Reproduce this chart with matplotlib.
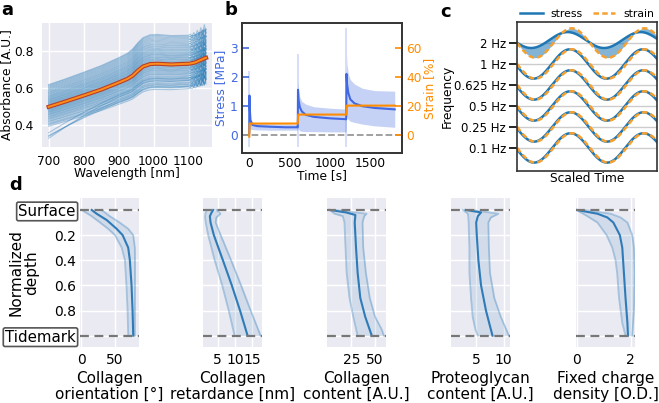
import numpy as np
import matplotlib
matplotlib.use("Agg")
import matplotlib.pyplot as plt
import matplotlib.patheffects as pe
from matplotlib.lines import Line2D

plt.rcParams['font.family'] = ['DejaVu Sans']

# ---------------- data: panel a (NIR spectra) ----------------
wl = [700, 750, 800, 850, 900, 925, 940, 955, 970, 990, 1010, 1050, 1100,
      1105, 1110, 1115, 1120, 1125, 1130, 1135, 1140, 1145, 1150]
spec_mean = [0.497, 0.527, 0.558, 0.590, 0.628, 0.648, 0.665, 0.692, 0.715, 0.728, 0.730, 0.726, 0.730,
             0.731, 0.733, 0.735, 0.738, 0.742, 0.746, 0.750, 0.754, 0.759, 0.762]
spec_spread = [1.0, 1.02, 1.05, 1.08, 1.12, 1.15, 1.2, 1.26, 1.3, 1.32, 1.32, 1.3, 1.28,
               1.28, 1.28, 1.28, 1.28, 1.29, 1.29, 1.3, 1.3, 1.3, 1.3]
spec_taper = [1.0, 0.65, 0.35, 0.12, 0, 0, 0, 0, 0, 0, 0, 0, 0, 0, 0, 0, 0, 0, 0, 0, 0, 0, 0]
tail_jitter = [0, 0, 0, 0, 0, 0, 0, 0, 0, 0, 0, 0, 0.0,
               0.006, -0.008, 0.010, -0.012, 0.014, -0.016, 0.019, -0.022, 0.026, -0.018]
spec_offsets = [-0.105, -0.098, -0.093, -0.088, -0.081, -0.077, -0.071, -0.066, -0.062, -0.057,
                -0.053, -0.049, -0.044, -0.041, -0.037, -0.033, -0.029, -0.026, -0.022, -0.019,
                -0.015, -0.012, -0.008, -0.005, -0.002, 0.001, 0.004, 0.007, 0.011, 0.014,
                0.018, 0.021, 0.025, 0.028, 0.032, 0.036, 0.039, 0.043, 0.047, 0.051,
                0.055, 0.059, 0.063, 0.068, 0.072, 0.077, 0.081, 0.086, 0.091, 0.096,
                0.101, 0.106, 0.111, 0.116, 0.120, -0.070, -0.085, -0.095, -0.060]
spec_drop = [0] * 55 + [-0.10, -0.075, -0.06, -0.08]
spec_jit = [0.3, -0.5, 0.8, -1.0, 0.6, -0.2, 1.0, -0.7, 0.4, -0.9, 0.7, -0.3]

# ---------------- data: panel b (stress relaxation) ----------------
stress_t = [0, 2, 6, 15, 40, 100, 250, 450, 599,
            600, 603, 610, 625, 650, 700, 800, 1000, 1199,
            1200, 1203, 1210, 1225, 1250, 1300, 1400, 1550, 1800]
stress_mean = [0.05, 1.35, 0.9, 0.5, 0.33, 0.29, 0.27, 0.25, 0.25,
               0.25, 1.55, 1.2, 0.95, 0.80, 0.68, 0.61, 0.56, 0.53,
               0.53, 2.10, 1.75, 1.45, 1.22, 1.08, 0.98, 0.92, 0.87]
stress_low = [0.0, 0.22, 0.2, 0.18, 0.17, 0.16, 0.15, 0.15, 0.15,
              0.15, 0.25, 0.18, 0.13, 0.11, 0.10, 0.10, 0.09, 0.09,
              0.09, 0.70, 0.60, 0.52, 0.46, 0.42, 0.36, 0.30, 0.25]
stress_up = [0.1, 1.0, 0.6, 0.48, 0.42, 0.39, 0.37, 0.36, 0.35,
             0.35, 1.90, 1.55, 1.30, 1.15, 1.05, 0.96, 0.91, 0.88,
             0.88, 2.80, 2.40, 2.10, 1.90, 1.75, 1.60, 1.52, 1.50]
spike_t = [0, 600, 1200]
spike_low = [-0.43, -0.43, -0.43]
spike_high = [2.2, 2.8, 3.7]
strain_t = [0, 4, 600, 605, 1200, 1205, 1800]
strain_val = [-1.5, 7.6, 7.6, 13.8, 13.8, 20.0, 20.0]

# ---------------- data: panel c (sinusoidal loading) ----------------
freq_labels = ['0.1 Hz', '0.25 Hz', '0.5 Hz', '0.625 Hz', '1 Hz', '2 Hz']
strain_amp = [0.70, 0.70, 0.70, 0.70, 0.70, 0.70]
stress_amp = [0.70, 0.70, 0.70, 0.70, 0.70, 0.38]
stress_shift = [0.0, 0.0, 0.0, 0.0, 0.0, 0.14]
stress_lead = [0.10, 0.10, 0.12, 0.12, 0.15, 0.35]
wave_phase = [0.0, 0.0, 0.0, 0.0, 0.0, 0.0]
scaled_time_end = 1.92

# ---------------- data: panel d (depth profiles) ----------------
d_orient = [0, 0.03, 0.08, 0.15, 0.2, 0.3, 0.4, 0.6, 0.8, 1.0]
orient_mean = [15.7, 23, 37.8, 52.5, 61.3, 69.6, 72, 74.5, 76, 77]
d_orient_b = [0, 0.05, 0.1, 0.15, 0.2, 0.3, 0.4, 0.6, 0.8, 1.0]
orient_low = [1, 15.7, 28, 40, 50, 60, 64.7, 67, 68.6, 69.6]
orient_up = [30.4, 42.6, 57, 69.6, 77, 79.4, 79.6, 79.6, 79.5, 79.4]

d_ret = [0, 0.02, 0.05, 0.1, 0.2, 0.4, 0.6, 0.8, 1.0]
ret_mean = [3.67, 3.2, 2.7, 2.9, 3.86, 6.5, 9.1, 11.5, 13.7]
d_ret_b = [0, 0.03, 0.06, 0.1, 0.2, 0.4, 0.6, 0.8, 1.0]
ret_low = [1.8, 1.4, 1.3, 1.5, 2.2, 4.1, 6.3, 8.2, 9.9]
ret_up = [4.6, 5.8, 4.6, 4.4, 5.86, 8.9, 11.8, 14.6, 17.5]

d_col = [0, 0.02, 0.04, 0.06, 0.1, 0.3, 0.5, 0.7, 0.85, 1.0]
col_mean = [2.1, 19.5, 29.2, 29.0, 28.5, 29.9, 31.6, 34.4, 39.6, 46.5]
d_col_b = [0, 0.03, 0.05, 0.1, 0.3, 0.5, 0.7, 0.85, 0.95, 1.0]
col_low = [2.0, 7.3, 16.0, 17.7, 18.8, 20.0, 23.0, 27.0, 30.0, 31.6]
col_up = [7.3, 41.0, 38.5, 36.8, 37.5, 40.3, 44.4, 50.0, 57.0, 59.3]

d_pg = [0, 0.02, 0.05, 0.1, 0.2, 0.4, 0.6, 0.8, 0.9, 1.0]
pg_mean = [3.0, 5.85, 5.25, 4.95, 5.06, 5.36, 5.85, 6.76, 7.36, 7.97]
d_pg_b = [0, 0.03, 0.06, 0.1, 0.3, 0.5, 0.7, 0.85, 0.95, 1.0]
pg_low = [2.5, 3.4, 3.5, 3.55, 3.7, 3.7, 4.0, 4.3, 4.8, 5.25]
pg_up = [4.0, 9.06, 7.67, 7.2, 7.3, 7.5, 8.3, 9.5, 10.5, 11.0]

d_fcd = [0, 0.03, 0.06, 0.1, 0.2, 0.3, 0.5, 0.7, 0.9, 1.0]
fcd_mean = [0.0, 0.77, 1.14, 1.36, 1.6, 1.69, 1.75, 1.81, 1.88, 1.9]
d_fcd_b = [0, 0.05, 0.1, 0.2, 0.3, 0.4, 0.5, 0.7, 0.9, 1.0]
fcd_low = [0.0, 0.4, 0.77, 1.11, 1.32, 1.44, 1.5, 1.57, 1.69, 1.81]
fcd_up_d = [0, 0.03, 0.06, 0.1, 0.2, 0.3, 0.5, 0.8, 1.0]
fcd_up = [0.27, 1.26, 1.63, 1.88, 2.06, 2.12, 2.15, 2.12, 2.06]

d_titles = ["Collagen\norientation [°]", "Collagen\nretardance [nm]", "Collagen\ncontent [A.U.]",
            "Proteoglycan\ncontent [A.U.]", "Fixed charge\ndensity [O.D.]"]
d_ticks = [[0, 50], [5, 10, 15], [25, 50], [5, 10], [0, 2]]
depth_ticks = [0, 0.2, 0.4, 0.6, 0.8, 1.0]
depth_labels = ['Surface', '0.2', '0.4', '0.6', '0.8', 'Tidemark']

# ---------------- figure ----------------
W, H = 659, 403
fig = plt.figure(figsize=(W / 100, H / 100), dpi=100)


def px_axes(l, t, r, b):
    return fig.add_axes([l / W, 1 - b / H, (r - l) / W, (b - t) / H])


def darkgrid(ax):
    ax.set_facecolor('#EAEAF2')
    for s in ax.spines.values():
        s.set_visible(False)
    ax.grid(True, color='white', lw=1.0)
    ax.set_axisbelow(True)
    ax.tick_params(length=0)


FS = 8.8
# ---------- panel a ----------
axa = px_axes(42, 23, 212, 147)
darkgrid(axa)
wl_a = np.array(wl)
mean_a = np.array(spec_mean)
spread_a = np.array(spec_spread)
taper_a = np.array(spec_taper)
jit_a = np.array(tail_jitter)
for i, off in enumerate(spec_offsets):
    y = mean_a + off * spread_a + spec_drop[i] * taper_a + spec_jit[i % len(spec_jit)] * jit_a
    axa.plot(wl_a, y, color='#1f77b4', alpha=0.35, lw=0.8)
axa.plot(wl_a, mean_a, color='#ff8c1a', lw=1.4,
         path_effects=[pe.Stroke(linewidth=3.0, foreground='#b5402a'), pe.Normal()])
axa.set_xlim(681, 1167)
axa.set_ylim(0.28, 0.95)
axa.set_xticks([700, 800, 900, 1000, 1100])
axa.set_yticks([0.4, 0.6, 0.8])
axa.tick_params(labelsize=FS, pad=6)
axa.set_xlabel('Wavelength [nm]', fontsize=FS, labelpad=-1)
axa.set_ylabel('Absorbance [A.U.]', fontsize=FS)
axa.yaxis.set_label_coords((13.5 - 42) / 170, 0.5)

# ---------- panel b ----------
axb = px_axes(242, 23, 402, 153)
blue_b = '#4169E1'
orange_b = '#FF8C00'
axb.fill_between(stress_t, stress_low, stress_up, color=blue_b, alpha=0.3, lw=0)
axb.vlines(spike_t, spike_low, spike_high, color=blue_b, alpha=0.25, lw=1.2)
axb.plot(stress_t, stress_mean, color=blue_b, lw=1.5)
axb.axhline(0, color='#999999', ls='--', lw=1.3)
axb.set_xlim(-90, 1890)
axb.set_ylim(-0.64, 3.86)
axb.set_yticks([0, 1, 2, 3])
axb.set_xticks([0, 500, 1000, 1500])
for s in axb.spines.values():
    s.set_color('#333333')
    s.set_linewidth(1.2)
axb.tick_params(axis='y', colors=blue_b, labelsize=FS, direction='in', length=5, width=1.2, pad=3)
axb.tick_params(axis='x', labelsize=FS, direction='in', length=0, pad=3)
axb.set_ylabel('Stress [MPa]', color=blue_b, fontsize=FS, labelpad=2)
axb.set_xlabel('Time [s]', fontsize=FS, labelpad=-1)
axb2 = axb.twinx()
axb2.plot(strain_t, strain_val, color=orange_b, lw=1.5)
axb2.set_ylim(-12.8, 77.2)
axb2.set_yticks([0, 20, 40, 60])
axb2.tick_params(axis='y', colors=orange_b, labelsize=FS, direction='in', length=5, width=1.2, pad=3)
axb2.set_ylabel('Strain [%]', color=orange_b, fontsize=FS, labelpad=1)
for s in axb2.spines.values():
    s.set_color('#333333')
    s.set_linewidth(1.2)

# ---------- panel c ----------
axc = px_axes(517, 22, 657, 171)
c_blue = '#1f77b4'
c_orange = '#f5a030'
xs = np.linspace(0, scaled_time_end, 400)
for i, lab in enumerate(freq_labels):
    strain_y = i - strain_amp[i] * np.sin(2 * np.pi * xs + wave_phase[i])
    stress_y = i + stress_shift[i] - stress_amp[i] * np.sin(2 * np.pi * xs + wave_phase[i] + stress_lead[i])
    if lab == '2 Hz':
        axc.fill_between(xs, stress_y, strain_y, color=c_blue, alpha=0.55, lw=0)
    axc.plot(xs, stress_y, color=c_blue, lw=1.8)
    axc.plot(xs, strain_y, color=c_orange, lw=1.8, ls=(0, (2.2, 1.3)))
axc.set_xlim(0, scaled_time_end)
axc.set_ylim(-1.1, 6.0)
axc.set_yticks(range(len(freq_labels)))
axc.set_yticklabels(freq_labels)
axc.set_xticks([])
axc.grid(True, axis='y', color='#cccccc', lw=1.0)
axc.set_axisbelow(True)
for s in axc.spines.values():
    s.set_color('#333333')
    s.set_linewidth(1.2)
axc.tick_params(axis='y', labelsize=FS - 0.3, length=6, width=1.2, pad=2)
axc.set_ylabel('Frequency', fontsize=FS, labelpad=0)
axc.set_xlabel('Scaled Time', fontsize=FS, labelpad=1)
handles = [Line2D([], [], color=c_blue, lw=1.8), Line2D([], [], color=c_orange, lw=1.8, ls=(0, (2.2, 1.3)))]
axc.legend(handles, ['stress', 'strain'], ncol=2, frameon=False, loc='lower center',
           bbox_to_anchor=(0.5, 0.99), fontsize=7.8, borderaxespad=0, handlelength=2.1,
           columnspacing=0.9, handletextpad=0.75)

# ---------- panel d ----------
d_lefts = [80, 203, 327, 451, 576]
d_width = 59
d_xlims = [(-1.5, 85.5), (0.7, 17.9), (-0.7, 61.5), (0.3, 11.2), (-0.02, 2.16)]
profiles = [
    (orient_mean, d_orient, orient_low, d_orient_b, orient_up, d_orient_b),
    (ret_mean, d_ret, ret_low, d_ret_b, ret_up, d_ret_b),
    (col_mean, d_col, col_low, d_col_b, col_up, d_col_b),
    (pg_mean, d_pg, pg_low, d_pg_b, pg_up, d_pg_b),
    (fcd_mean, d_fcd, fcd_low, d_fcd_b, fcd_up, fcd_up_d),
]
line_c = '#2f7bb8'
FSD = 10.5
for k in range(5):
    ax = px_axes(d_lefts[k], 198, d_lefts[k] + d_width, 347)
    darkgrid(ax)
    m, dm, lo, dlo, up, dup = profiles[k]
    grid_d = sorted(set(dlo) | set(dup))
    lo_i = np.interp(grid_d, dlo, lo)
    up_i = np.interp(grid_d, dup, up)
    ax.fill_betweenx(grid_d, lo_i, up_i, color=line_c, alpha=0.13, lw=0)
    ax.plot(lo, dlo, color=line_c, alpha=0.35, lw=1.3)
    ax.plot(up, dup, color=line_c, alpha=0.35, lw=1.3)
    ax.plot(m, dm, color=line_c, lw=1.5)
    ax.axhline(0, color='#777777', ls='--', lw=1.6, dashes=(4, 2.5))
    ax.axhline(1, color='#777777', ls='--', lw=1.6, dashes=(4, 2.5))
    ax.set_xlim(*d_xlims[k])
    ax.set_ylim(1.09, -0.095)
    ax.set_xticks(d_ticks[k])
    ax.set_yticks(depth_ticks)
    ax.tick_params(labelsize=FSD - 0.5, pad=4)
    ax.set_xlabel(d_titles[k], fontsize=FSD + 0.5, linespacing=1.1, labelpad=3)
    if k == 0:
        ax.set_yticklabels(depth_labels)
        ax.tick_params(axis='y', pad=3)
        for idx in (0, -1):
            tl = ax.get_yticklabels()[idx]
            tl.set_fontsize(FSD + 0.3)
            tl.set_bbox(dict(boxstyle='round,pad=0.12', fc='white', ec='#555555', lw=1.2))
        ax.set_ylabel('Normalized\ndepth', fontsize=FSD + 0.5, linespacing=1.0)
        ax.yaxis.set_label_coords((39 - 80) / d_width, 0.5)
    else:
        ax.set_yticklabels([])

# panel letters
for lab, x, y in [('a', 1, 1), ('b', 224, 1), ('c', 440, 3), ('d', 9, 176)]:
    fig.text(x / W, 1 - y / H, lab, fontsize=13, fontweight='bold', ha='left', va='top')

fig.savefig('out.png', dpi=100)
